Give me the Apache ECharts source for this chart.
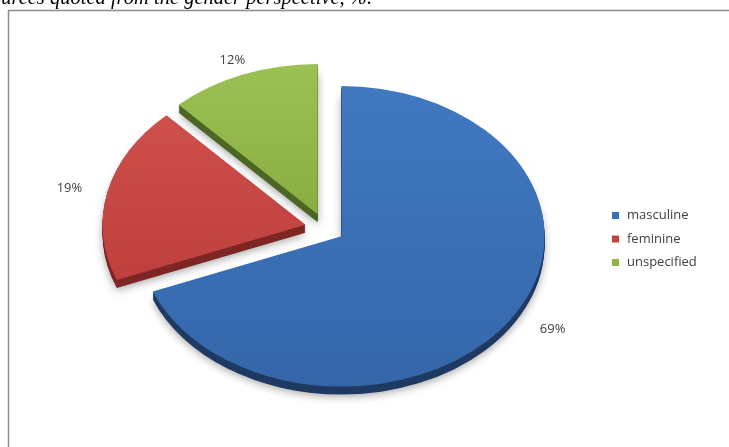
<!DOCTYPE html>
<html>
<head>
<meta charset="utf-8">
<script src="https://cdn.jsdelivr.net/npm/echarts@6/dist/echarts.min.js"></script>
<style>
  html, body { margin: 0; padding: 0; background: #ffffff; }
  #chart { width: 729px; height: 447px; }
</style>
</head>
<body>
<div id="chart"></div>
<script>
// Share of sources by gender, in percent
const categories = ['masculine', 'feminine', 'unspecified'];
const shares = [69, 19, 12];
const titleText = 'Sources quoted from the gender perspective, %.';

// Look of each slice: top face gradient (light, dark) and side face colour
const topColors = [['#4079c1', '#3566aa'], ['#cf4f4b', '#be3f3c'], ['#9cc153', '#8aad41']];
const sideColors = ['#1f3b63', '#7e2725', '#4c6624'];
const legendColors = ['#3b70b6', '#c4453f', '#8fb548'];

// Pie geometry: centre, circular radius, vertical tilt, explosion and thickness
const PIE = { cx: 325, cy: 228, r: 203, tilt: 0.74, explode: 20, depth: 8 };
// Percentage labels sit on a wider ellipse round each slice, nudged right a little
const LABEL = { rx: 248, ry: 166, nudgeX: 6 };
const TEXT_FONT = '"Open Sans", Lato, sans-serif';

const total = shares.reduce((a, b) => a + b, 0);
const cumulative = [0];
shares.forEach((v, i) => cumulative.push(cumulative[i] + v));

function sliceRenderer(idx) {
  return function (params, api) {
    const value = api.value(0);
    const a0 = cumulative[idx] / total * Math.PI * 2;
    const a1 = a0 + value / total * Math.PI * 2;
    const mid = (a0 + a1) / 2;
    const dx = Math.sin(mid), dy = -Math.cos(mid);
    const scx = PIE.cx + PIE.explode * dx;
    const scy = PIE.cy + PIE.explode * dy;
    const shape = {
      cx: scx, cy: scy, r: PIE.r, r0: 0,
      startAngle: a0 - Math.PI / 2, endAngle: a1 - Math.PI / 2, clockwise: true
    };
    const tf = { scaleY: PIE.tilt, originX: PIE.cx, originY: PIE.cy };
    const children = [];
    // extruded side, stacked from the bottom up
    for (let k = PIE.depth; k >= 1; k--) {
      const el = Object.assign({
        type: 'sector', shape: shape, y: k,
        style: { fill: sideColors[idx] }
      }, tf);
      if (k === PIE.depth) {
        el.style.shadowBlur = 8;
        el.style.shadowColor = 'rgba(0,0,0,0.35)';
        el.style.shadowOffsetY = 2;
      }
      children.push(el);
    }
    // top face
    children.push(Object.assign({
      type: 'sector', shape: shape,
      style: {
        fill: new echarts.graphic.LinearGradient(0, 0, 0, 1, [
          { offset: 0, color: topColors[idx][0] },
          { offset: 1, color: topColors[idx][1] }
        ])
      }
    }, tf));
    // percentage label outside the rim
    const ccx = scx;
    const ccy = PIE.cy + (scy - PIE.cy) * PIE.tilt;
    children.push({
      type: 'text',
      x: ccx + LABEL.rx * dx + LABEL.nudgeX,
      y: ccy + LABEL.ry * dy,
      style: {
        text: value + '%',
        fill: '#404040',
        fontSize: 13,
        fontFamily: TEXT_FONT,
        align: 'center',
        verticalAlign: 'middle'
      }
    });
    return { type: 'group', children: children };
  };
}

const chart = echarts.init(document.getElementById('chart'), null, { renderer: 'canvas' });

chart.setOption({
  animation: false,
  backgroundColor: '#ffffff',
  legend: {
    orient: 'vertical',
    left: 607,
    top: 204,
    itemWidth: 7,
    itemHeight: 7,
    itemGap: 10.5,
    icon: 'rect',
    data: categories,
    textStyle: { color: '#404040', fontSize: 13, fontFamily: TEXT_FONT, padding: [0, 0, 0, 3] }
  },
  graphic: [
    {
      type: 'rect',
      shape: { x: 8.5, y: 10.5, width: 900, height: 600 },
      style: { fill: 'none', stroke: '#8c8c8c', lineWidth: 1.5 },
      z: 0
    },
    {
      type: 'text',
      x: 372,
      y: -1,
      style: {
        text: titleText,
        fill: '#000000',
        font: 'italic 20.5px "Liberation Serif", serif',
        align: 'right',
        verticalAlign: 'middle'
      },
      z: 1
    }
  ],
  series: categories.map((name, i) => ({
    type: 'custom',
    name: name,
    coordinateSystem: 'none',
    itemStyle: { color: legendColors[i] },
    renderItem: sliceRenderer(i),
    data: [shares[i]],
    silent: true
  }))
});
</script>
</body>
</html>
